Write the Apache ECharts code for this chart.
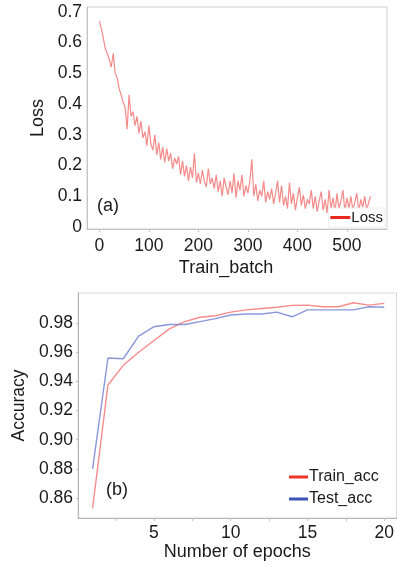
<!DOCTYPE html>
<html>
<head>
<meta charset="utf-8">
<script src="https://cdn.jsdelivr.net/npm/echarts@6/dist/echarts.min.js"></script>
<style>
html,body{margin:0;padding:0;background:#fff;}
#c{width:397px;height:567px;}
</style>
</head>
<body>
<div id="c"></div>
<script>
// ---- Panel (a): training loss ----
const batches = [0,4,8,12,16,20,24,28,32,36,40,44,48,52,56,60,64,68,72,76,80,84,88,92,96,100,104,108,112,116,120,124,128,132,136,140,144,148,152,156,160,164,168,172,176,180,184,188,192,196,200,204,208,212,216,220,224,228,232,236,240,244,248,252,256,260,264,268,272,276,280,284,288,292,296,300,304,308,312,316,320,324,328,332,336,340,344,348,352,356,360,364,368,372,376,380,384,388,392,396,400,404,408,412,416,420,424,428,432,436,440,444,448,452,456,460,464,468,472,476,480,484,488,492,496,500,504,508,512,516,520,524,528,532,536,540,544,548];
const lossValues = [0.670,0.645,0.615,0.580,0.565,0.545,0.520,0.565,0.500,0.485,0.450,0.430,0.405,0.390,0.318,0.430,0.360,0.375,0.330,0.360,0.305,0.345,0.290,0.310,0.265,0.330,0.270,0.250,0.300,0.235,0.275,0.220,0.260,0.210,0.255,0.215,0.240,0.190,0.225,0.205,0.230,0.170,0.215,0.165,0.200,0.150,0.195,0.160,0.240,0.145,0.175,0.140,0.185,0.150,0.130,0.190,0.140,0.160,0.125,0.170,0.115,0.150,0.100,0.160,0.130,0.105,0.150,0.110,0.175,0.095,0.150,0.120,0.170,0.100,0.135,0.110,0.150,0.220,0.100,0.140,0.085,0.120,0.100,0.150,0.080,0.115,0.090,0.125,0.075,0.110,0.150,0.080,0.135,0.070,0.100,0.060,0.145,0.075,0.110,0.055,0.095,0.130,0.070,0.105,0.060,0.090,0.075,0.120,0.060,0.100,0.050,0.085,0.115,0.055,0.090,0.045,0.120,0.060,0.095,0.050,0.110,0.060,0.085,0.120,0.050,0.095,0.060,0.100,0.055,0.080,0.110,0.050,0.090,0.065,0.100,0.055,0.080,0.100];
const lossYTicks = [0,0.1,0.2,0.3,0.4,0.5,0.6,0.7];
const lossXTicks = [0,100,200,300,400,500];

// ---- Panel (b): accuracy ----
const epochs = [1,2,3,4,5,6,7,8,9,10,11,12,13,14,15,16,17,18,19,20];
const trainAcc = [0.853,0.9375,0.951,0.960,0.968,0.976,0.981,0.984,0.985,0.9875,0.989,0.990,0.9908,0.9921,0.9923,0.9912,0.9912,0.9939,0.9923,0.9935];
const testAcc  = [0.880,0.956,0.9555,0.971,0.9775,0.979,0.979,0.981,0.983,0.9855,0.9862,0.9862,0.9875,0.9843,0.989,0.989,0.989,0.989,0.9912,0.9908];
const accYTicks = [0.86,0.88,0.90,0.92,0.94,0.96,0.98];
const accXTicks = [2.5,5,7.5,10,12.5,15,17.5,20];
const accXLabels = [5,10,15,20];

const FONT = "'Liberation Sans', Arial, sans-serif";
const TXT = '#1a1a1a';

const chart = echarts.init(document.getElementById('c'), null, {renderer:'canvas'});
chart.setOption({
  animation:false,
  backgroundColor:'#fff',
  textStyle:{fontFamily:FONT},
  grid:[
    {left:87, top:7, right:10, bottom:338, show:true, borderColor:'#d2d2d2', borderWidth:1, backgroundColor:'transparent'},
    {left:78, top:293, right:0, bottom:49, show:true, borderColor:'#d8d8d8', borderWidth:1, backgroundColor:'transparent'}
  ],
  xAxis:[
    {gridIndex:0, type:'value', min:-25, max:581,
     name:'Train_batch', nameLocation:'middle', nameGap:30,
     nameTextStyle:{fontSize:18, color:TXT, fontFamily:FONT, padding:[0,22,0,0]},
     axisLine:{show:true, onZero:false, lineStyle:{color:'#c4c4c4'}},
     axisTick:{show:true, length:3, customValues:lossXTicks, lineStyle:{color:'#c4c4c4'}},
     axisLabel:{customValues:lossXTicks, fontSize:17.5, color:TXT, margin:8, fontFamily:FONT},
     splitLine:{show:false}},
    {gridIndex:1, type:'value', min:0.05, max:20.8,
     name:'Number of epochs', nameLocation:'middle', nameGap:25,
     nameTextStyle:{fontSize:18, color:TXT, fontFamily:FONT},
     axisLine:{show:true, onZero:false, lineStyle:{color:'#b4b4b4'}},
     axisTick:{show:true, length:3, customValues:accXTicks, lineStyle:{color:'#c4c4c4'}},
     axisLabel:{customValues:accXLabels, fontSize:17.5, color:TXT, margin:6, fontFamily:FONT},
     splitLine:{show:false}}
  ],
  yAxis:[
    {gridIndex:0, type:'value', min:-0.0065, max:0.716,
     name:'Loss', nameLocation:'middle', nameGap:38,
     nameTextStyle:{fontSize:18, color:TXT, fontFamily:FONT},
     axisLine:{show:true, onZero:false, lineStyle:{color:'#c4c4c4'}},
     axisTick:{show:false, customValues:lossYTicks},
     axisLabel:{customValues:lossYTicks, fontSize:17.5, color:TXT, margin:5, fontFamily:FONT,
       formatter:function(v){return v===0?'0':v.toFixed(1);}},
     splitLine:{show:false}},
    {gridIndex:1, type:'value', min:0.8463, max:1.0006,
     name:'Accuracy', nameLocation:'middle', nameGap:47,
     nameTextStyle:{fontSize:17.5, color:TXT, fontFamily:FONT},
     axisLine:{show:true, onZero:false, lineStyle:{color:'#b4b4b4'}},
     axisTick:{show:true, length:2, customValues:accYTicks, lineStyle:{color:'#c4c4c4'}},
     axisLabel:{customValues:accYTicks, fontSize:17.5, color:TXT, margin:5, fontFamily:FONT,
       formatter:function(v){return v.toFixed(2);}},
     splitLine:{show:false}}
  ],
  legend:[
    {data:[{name:'Loss', itemStyle:{color:'#e8291e'}}],
     right:12, top:208, orient:'vertical', icon:'rect', itemWidth:20, itemHeight:3, itemGap:4,
     padding:[2,2,2,2], backgroundColor:'#fff', borderColor:'#eeeeee', borderWidth:1,
     textStyle:{fontSize:15, color:TXT, fontFamily:FONT, padding:[0,0,0,-4]}},
    {data:[{name:'Train_acc', itemStyle:{color:'#ee3327'}}, {name:'Test_acc', itemStyle:{color:'#3a55b5'}}],
     left:289, top:469, orient:'vertical', icon:'rect', itemWidth:19, itemHeight:3, itemGap:6,
     padding:0,
     textStyle:{fontSize:16, color:TXT, fontFamily:FONT, padding:[0,0,0,-4]}}
  ],
  graphic:[
    {type:'text', left:97, top:197, style:{text:'(a)', fontSize:18, fill:TXT, fontFamily:FONT}},
    {type:'text', left:106, top:481, style:{text:'(b)', fontSize:18, fill:TXT, fontFamily:FONT}}
  ],
  series:[
    {name:'Loss', type:'line', xAxisIndex:0, yAxisIndex:0, showSymbol:false,
     data:batches.map((b,i)=>[b,lossValues[i]]),
     lineStyle:{color:'rgba(236,60,60,0.6)', width:1.2}, itemStyle:{color:'#e8291e'}},
    {name:'Train_acc', type:'line', xAxisIndex:1, yAxisIndex:1, showSymbol:false,
     data:epochs.map((e,i)=>[e,trainAcc[i]]),
     lineStyle:{color:'rgba(245,110,110,0.8)', width:1.4}, itemStyle:{color:'#ee3327'}},
    {name:'Test_acc', type:'line', xAxisIndex:1, yAxisIndex:1, showSymbol:false,
     data:epochs.map((e,i)=>[e,testAcc[i]]),
     lineStyle:{color:'rgba(110,125,210,0.8)', width:1.4}, itemStyle:{color:'#3a55b5'}}
  ]
});
</script>
</body>
</html>
